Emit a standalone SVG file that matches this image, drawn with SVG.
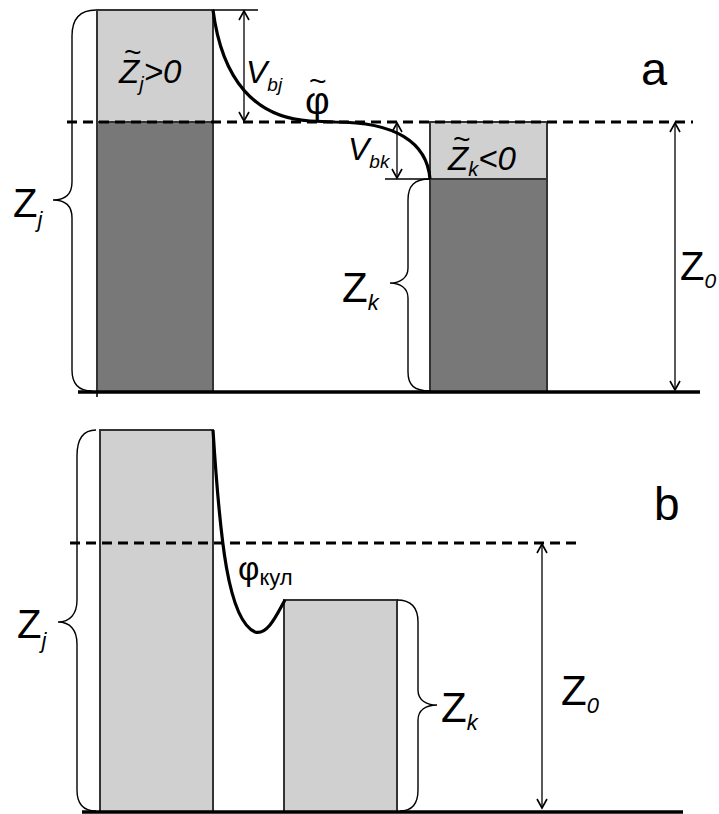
<svg xmlns="http://www.w3.org/2000/svg" width="719" height="814" viewBox="0 0 719 814">
<defs>
<marker id="ah" viewBox="0 0 12 12" refX="10" refY="6" markerWidth="12" markerHeight="12" markerUnits="userSpaceOnUse" orient="auto-start-reverse">
<path d="M1,1 L10,6 L1,11" fill="none" stroke="#000" stroke-width="1.6"/>
</marker>
<style>
.light{fill:#d0d0d0;stroke:#333;stroke-width:2}
.dark{fill:#787878;stroke:#333;stroke-width:2}
.base{stroke:#000;stroke-width:3.5;fill:none}
.dash{stroke:#000;stroke-width:3;stroke-dasharray:10 6;fill:none}
.thin{stroke:#000;stroke-width:1.3;fill:none}
.arr{stroke:#000;stroke-width:1.3;fill:none;marker-start:url(#ah);marker-end:url(#ah)}
.curve{stroke:#000;stroke-width:3.2;fill:none}
.brace{stroke:#000;stroke-width:1.4;fill:none}
text{font-family:"Liberation Sans",Arial,sans-serif;fill:#000}
.it{font-style:italic}
.up{font-style:normal}
</style>
</defs>
<rect width="719" height="814" fill="#fff"/>

<!-- panel a -->
<g id="bar-j-a">
<rect class="light" x="97" y="10" width="116" height="112"/>
<rect class="dark" x="97" y="122" width="116" height="270"/>
<line x1="97" y1="392" x2="97" y2="397" stroke="#333" stroke-width="2"/>
</g>
<g id="bar-k-a">
<rect class="light" x="430" y="122" width="117" height="57"/>
<rect class="dark" x="430" y="179" width="117" height="213"/>
</g>
<g id="connectors-a">
<line class="base" x1="78" y1="392" x2="700" y2="392"/>
<line class="dash" x1="67" y1="122" x2="693" y2="122"/>
<line class="thin" x1="213" y1="10" x2="258" y2="10"/>
<line class="thin" x1="385" y1="179" x2="430" y2="179"/>
<line class="arr" x1="244" y1="11" x2="244" y2="121"/>
<line class="arr" x1="397" y1="123" x2="397" y2="178"/>
<line class="arr" x1="675" y1="123" x2="675" y2="390"/>
<path class="curve" d="M213,10 C222,80 255,118 310,121 L335,122 C395,122 427,142 430,179"/>
<path class="brace" d="M96,10 C80,10 72,18 72,36 L72,182 C72,195 64,200 53,200 C64,200 72,205 72,218 L72,370 C72,384 78,391 92,391"/>
<path class="brace" d="M430,179 C414,179 408,186 408,200 L408,268 C408,278 400,283 390,283 C400,283 408,288 408,298 L408,372 C408,385 414,391 430,391"/>
</g>
<g id="labels-a">
<text x="13" y="217" font-size="40">Z<tspan class="it" font-size="22" dy="10">j</tspan></text>
<text class="it" font-size="33"><tspan class="up" x="124" y="62" font-size="30">~</tspan><tspan x="119" y="83">Z</tspan><tspan font-size="20" dy="8">j</tspan><tspan dy="-8">&gt;0</tspan></text>
<text class="it" x="246" y="83" font-size="32">V<tspan font-size="19" dy="8">bj</tspan></text>
<text font-size="38"><tspan x="309" y="91" font-size="30">~</tspan><tspan x="305" y="114">φ</tspan></text>
<text x="641" y="85" font-size="47">a</text>
<text class="it" x="348" y="160" font-size="32">V<tspan font-size="19" dy="8">bk</tspan></text>
<text class="it" font-size="33"><tspan class="up" x="453" y="149" font-size="30">~</tspan><tspan x="448" y="170">Z</tspan><tspan font-size="20" dy="6">k</tspan><tspan dy="-6">&lt;0</tspan></text>
<text x="342" y="302" font-size="42">Z<tspan class="it" font-size="22" dy="8">k</tspan></text>
<text x="680" y="280" font-size="40">Z<tspan class="it" font-size="21" dy="8">0</tspan></text>
</g>

<!-- panel b -->
<g id="bar-j-b">
<rect class="light" x="100" y="430" width="113" height="382"/>
</g>
<g id="bar-k-b">
<rect class="light" x="284" y="600" width="113" height="212"/>
</g>
<g id="connectors-b">
<line class="base" x1="82" y1="812" x2="683" y2="812"/>
<line class="dash" x1="70" y1="543" x2="577" y2="543"/>
<line class="arr" x1="542" y1="544" x2="542" y2="808"/>
<path class="curve" d="M213,430 C220,540 228,620 255,632 C268,636 278,612 285,600"/>
<path class="brace" d="M96,430 C84,430 77,438 77,456 L77,600 C77,614 70,622 58,622 C70,622 77,630 77,644 L77,790 C77,805 84,811 96,811"/>
<path class="brace" d="M397,600 C411,600 418,607 418,622 L418,690 C418,700 426,705 437,705 C426,705 418,710 418,720 L418,790 C418,805 411,811 400,811"/>
</g>
<g id="labels-b">
<text x="17" y="638" font-size="40">Z<tspan class="it" font-size="22" dy="10">j</tspan></text>
<text x="238" y="580" font-size="33">φ<tspan font-size="22" dy="5">кул</tspan></text>
<text x="654" y="520" font-size="46">b</text>
<text x="441" y="722" font-size="42">Z<tspan class="it" font-size="22" dy="8">k</tspan></text>
<text x="561" y="705" font-size="42">Z<tspan class="it" font-size="22" dy="8">0</tspan></text>
</g>
</svg>
